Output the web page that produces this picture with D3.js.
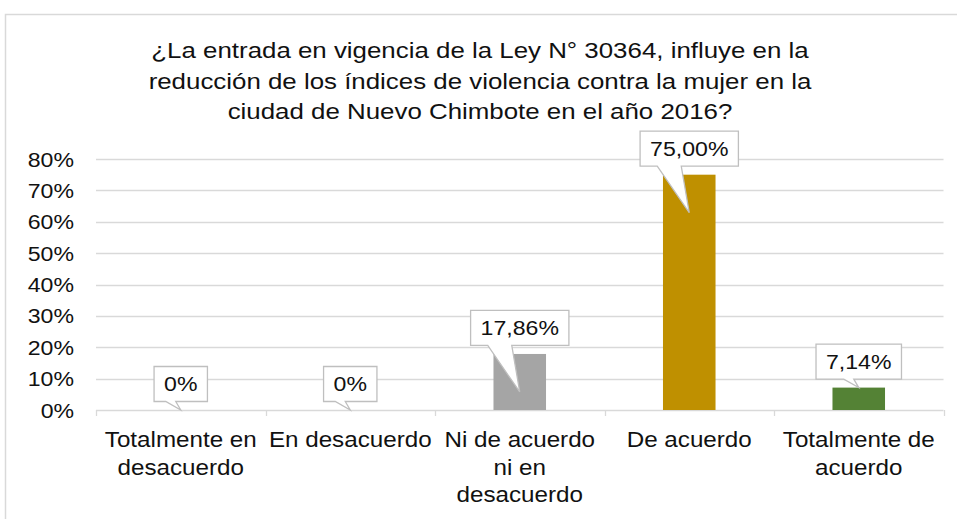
<!DOCTYPE html>
<html><head><meta charset="utf-8">
<script src="https://cdn.jsdelivr.net/npm/d3@7"></script>
<style>body{margin:0;background:#fff}svg{display:block}text{font-family:"Liberation Sans",Arial,sans-serif;fill:#111}</style>
</head><body>
<svg id="c" width="957" height="519"></svg>
<script>
const titleLines = ["¿La entrada en vigencia de la Ley N° 30364, influye en la",
  "reducción de los índices de violencia contra la mujer en la",
  "ciudad de Nuevo Chimbote en el año 2016?"];
const categories = ["Totalmente en\ndesacuerdo", "En desacuerdo", "Ni de acuerdo\nni en\ndesacuerdo", "De acuerdo", "Totalmente de\nacuerdo"];
const values = [0, 0, 0.1786, 0.75, 0.0714];
const valueLabels = ["0%", "0%", "17,86%", "75,00%", "7,14%"];
const colors = ["#4472C4", "#ED7D31", "#A5A5A5", "#BF9000", "#548235"];
const yTicks = [0, 0.1, 0.2, 0.3, 0.4, 0.5, 0.6, 0.7, 0.8];

const SX = 1.1; // horizontal stretch of the original image
const svg = d3.select("#c");
svg.append("rect").attr("x", 5.5).attr("y", 14.5).attr("width", 1000).attr("height", 600)
  .attr("fill", "#fff").attr("stroke", "#d9d9d9").attr("stroke-width", 1.5);

function txt(g, x, y, s, size, anchor, sx) {
  return g.append("text").attr("transform", `translate(${x},${y}) scale(${sx || SX},1)`)
    .attr("text-anchor", anchor || "middle").attr("font-size", size).text(s);
}

// title
titleLines.forEach((l, i) => txt(svg, 480, 58 + i * 30.5, l, 22.5, "middle", 1.15));

const x = d3.scaleBand().domain(categories).range([96, 943.5]);
const y = d3.scaleLinear().domain([0, 0.8]).range([410, 159]);

// gridlines
svg.append("g").selectAll("line").data(yTicks.slice(1)).join("line")
  .attr("x1", 96).attr("x2", 943.5).attr("y1", d => Math.round(y(d)) + 0.5).attr("y2", d => Math.round(y(d)) + 0.5)
  .attr("stroke", "#d9d9d9").attr("stroke-width", 1.3);
// y labels
yTicks.forEach(t => txt(svg, 74, y(t) + 7.5, d3.format(".0%")(t), 21, "end"));

// x axis
const ax = svg.append("g");
ax.append("line").attr("x1", 96).attr("x2", 943.5).attr("y1", 410.5).attr("y2", 410.5)
  .attr("stroke", "#d9d9d9").attr("stroke-width", 1.3);
const bounds = categories.map(c => x(c)).concat([x.range()[1]]);
ax.selectAll("line.t").data(bounds).join("line").attr("class", "t")
  .attr("x1", d => Math.round(d) + 0.5).attr("x2", d => Math.round(d) + 0.5).attr("y1", 410).attr("y2", 416)
  .attr("stroke", "#d9d9d9").attr("stroke-width", 1.3);
categories.forEach(c => {
  c.split("\n").forEach((l, i) => txt(svg, x(c) + x.bandwidth() / 2, 447 + i * 27.5, l, 22));
});

// bars
const bw = x.bandwidth() * 0.31;
svg.append("g").selectAll("rect").data(values).join("rect")
  .attr("x", (d, i) => x(categories[i]) + x.bandwidth() / 2 - bw / 2)
  .attr("width", bw)
  .attr("y", d => y(d)).attr("height", d => y(0) - y(d))
  .attr("fill", (d, i) => colors[i]);

// callouts
const cg = svg.append("g");
values.forEach((v, i) => {
  const cx = x(categories[i]) + x.bandwidth() / 2;
  const top = y(v);
  const long = (y(0) - top) > 30;
  const bottom = top - 8.5, boxTop = bottom - 35;
  const t = txt(cg, cx, bottom - 10.5, valueLabels[i], 21);
  const w = t.node().getBBox().width * SX + 20;
  const l = cx - w / 2, r = cx + w / 2;
  const tipY = long ? top + 38 : top;
  const bl = long ? cx - 32 : cx - 15, br = long ? cx - 8 : cx - 5;
  cg.insert("path", "text")
    .attr("d", `M${l},${boxTop}H${r}V${bottom}H${br}L${cx},${tipY}L${bl},${bottom}H${l}Z`)
    .attr("fill", "#fff").attr("stroke", "#bfbfbf").attr("stroke-width", 1.3);
});
</script>
</body></html>
